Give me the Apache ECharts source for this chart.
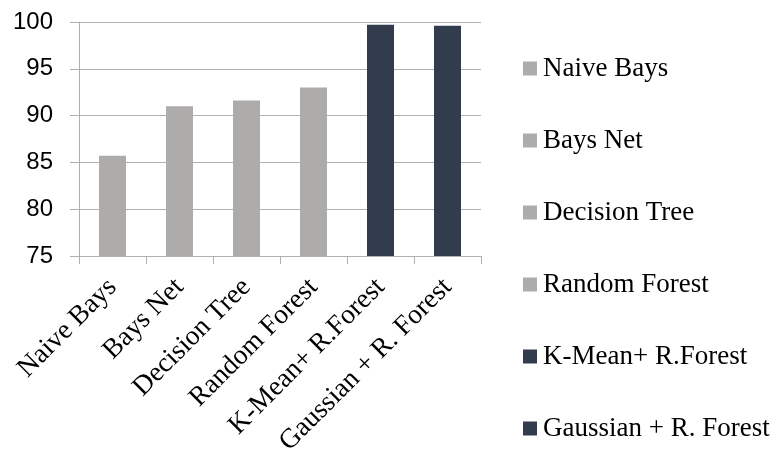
<!DOCTYPE html>
<html>
<head>
<meta charset="utf-8">
<script src="https://cdn.jsdelivr.net/npm/echarts@6/dist/echarts.min.js"></script>
<style>
  html, body { margin: 0; padding: 0; background: #ffffff; }
  #chart { width: 779px; height: 450px; }
</style>
</head>
<body>
<div id="chart"></div>
<script>
// Classifier accuracy (%)
const categories = ['Naive Bays', 'Bays Net', 'Decision Tree', 'Random Forest', 'K-Mean+ R.Forest', 'Gaussian + R. Forest'];
const accuracy = [85.7, 91.0, 91.6, 93.0, 99.7, 99.6];
const barColors = ['#aeabab', '#aeabab', '#aeabab', '#aeabab', '#323c4d', '#323c4d'];
const yTicks = { min: 75, max: 100, interval: 5 };

const chart = echarts.init(document.getElementById('chart'), null, { renderer: 'canvas' });

// One series per classifier so each gets its own legend entry; bars overlap at the category centre.
const series = categories.map((name, i) => ({
  name: name,
  type: 'bar',
  barWidth: 27,
  barGap: '-100%',
  itemStyle: { color: barColors[i] },
  data: categories.map((c, j) => (j === i ? accuracy[i] : '-'))
}));

chart.setOption({
  animation: false,
  color: barColors,
  grid: { left: 79, right: 298, top: 22, bottom: 194, containLabel: false, outerBoundsMode: 'none' },
  legend: {
    orient: 'vertical',
    left: 518,
    top: 50,
    icon: 'rect',
    itemWidth: 14,
    itemHeight: 14,
    itemGap: 45,
    textStyle: { fontFamily: 'Liberation Serif', fontSize: 27, color: '#000000', padding: [0, 0, 0, 1] },
    data: categories
  },
  xAxis: {
    type: 'category',
    data: categories,
    axisLine: { lineStyle: { color: '#b0b0b0', width: 1 } },
    axisTick: { show: true, alignWithLabel: false, length: 8, lineStyle: { color: '#b0b0b0' } },
    axisLabel: {
      rotate: 45,
      interval: 0,
      margin: 27,
      fontFamily: 'Liberation Serif',
      fontSize: 27.5,
      color: '#000000'
    }
  },
  yAxis: {
    type: 'value',
    min: yTicks.min,
    max: yTicks.max,
    interval: yTicks.interval,
    axisLine: { show: true, lineStyle: { color: '#b0b0b0', width: 1 } },
    axisTick: { show: true, length: 9, lineStyle: { color: '#b0b0b0' } },
    splitLine: { lineStyle: { color: '#b0b0b0', width: 1 } },
    axisLabel: {
      margin: 26,
      fontFamily: 'Liberation Sans',
      fontSize: 24,
      color: '#000000'
    }
  },
  series: series
});
</script>
</body>
</html>
